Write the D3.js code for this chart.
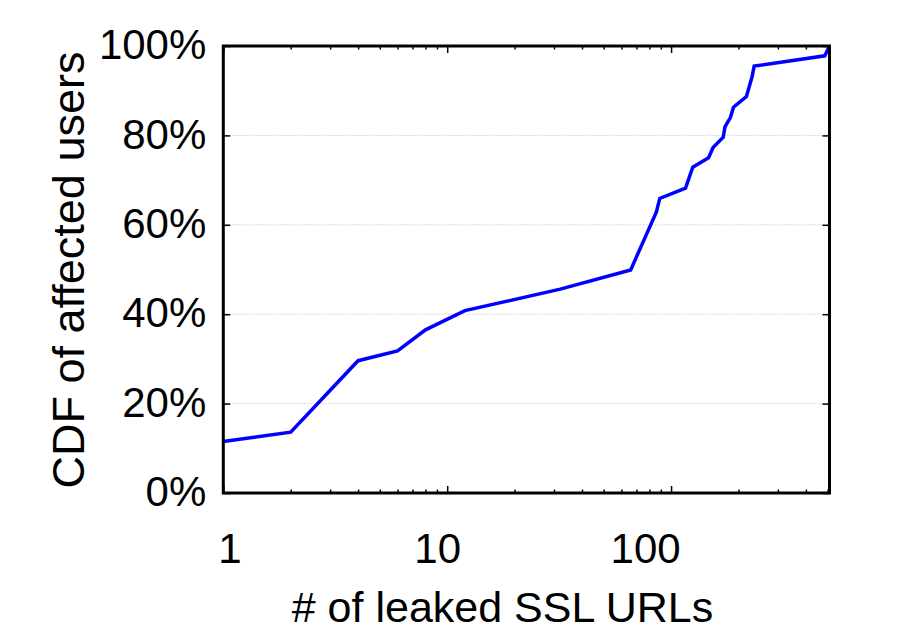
<!DOCTYPE html>
<html>
<head>
<meta charset="utf-8">
<script src="https://cdn.jsdelivr.net/npm/d3@7"></script>
<style>
  body { margin: 0; background: #fff; }
  svg { display: block; font-family: "Liberation Sans", Arial, sans-serif; }
</style>
</head>
<body>
<div id="chart"></div>
<script>
// Data: number of leaked SSL URLs vs CDF (%) of affected users
const leakedUrls = [1, 2, 4, 6, 8, 12, 32, 66, 86, 89, 116, 125, 147, 154, 171, 174, 184, 190, 217, 230, 235, 486, 510]
const cdfPercent = [11.5, 13.6, 29.6, 31.8, 36.5, 40.8, 45.6, 49.9, 62.9, 65.9, 68.2, 72.9, 75, 77.3, 79.6, 81.9, 84, 86.3, 88.7, 93.1, 95.5, 97.8, 100]

const xMajorTicks = [1, 10, 100]
const xMinorTicks = [2, 3, 4, 5, 6, 7, 8, 9, 20, 30, 40, 50, 60, 70, 80, 90, 200, 300, 400, 500]
const yTicks = [0, 20, 40, 60, 80, 100]

const xLabel = '# of leaked SSL URLs'
const yLabel = 'CDF of affected users'

// Constants
const width = 913
const height = 640
const margin = { top: 46, right: 83.5, bottom: 147, left: 223.3 }
const graphWidth = width - margin.left - margin.right
const graphHeight = height - margin.top - margin.bottom

const data = leakedUrls.map((v, i) => ({ urls: v, cdf: cdfPercent[i] }))

const svg = d3.select('#chart')
    .append('svg')
    .attr('width', width)
    .attr('height', height)

const g = svg.append('g')
    .attr('transform', `translate(${margin.left}, ${margin.top})`)

// Scales
const x = d3.scaleLog()
    .domain([1, 510])
    .range([0, graphWidth])

const y = d3.scaleLinear()
    .domain([0, 100])
    .range([graphHeight, 0])

// Grid lines (horizontal, dotted)
g.append('g')
    .selectAll('line')
    .data(yTicks.filter(d => d > 0 && d < 100))
    .enter()
    .append('line')
    .attr('x1', 0)
    .attr('x2', graphWidth)
    .attr('y1', d => y(d))
    .attr('y2', d => y(d))
    .attr('stroke', '#b8b8b8')
    .attr('stroke-width', 1)
    .attr('stroke-dasharray', '1,2')

// Axes: ticks point inward, mirrored on top and right
const styleAxis = sel => {
    sel.select('.domain').remove()
    sel.selectAll('line').attr('stroke', '#000').attr('stroke-width', 1.5)
    sel.selectAll('text')
        .attr('fill', '#000')
        .style('font-size', '42px')
        .style('font-family', '"Liberation Sans", Arial, sans-serif')
}

const xBottom = g.append('g')
    .attr('transform', `translate(0, ${graphHeight})`)
    .call(d3.axisBottom(x).tickValues(xMajorTicks).tickSize(-7).tickPadding(0).tickFormat(d3.format('d')))
styleAxis(xBottom)
// gnuplot-style label placement
const xNudge = [6, -10, -26]
xBottom.selectAll('text')
    .attr('y', 70)
    .attr('dy', 0)
    .attr('dx', (d, i) => xNudge[i])

g.append('g')
    .attr('transform', `translate(0, ${graphHeight})`)
    .call(d3.axisBottom(x).tickValues(xMinorTicks).tickSize(-3.5).tickFormat(''))
    .call(styleAxis)

g.append('g')
    .call(d3.axisTop(x).tickValues(xMajorTicks).tickSize(-7).tickFormat(''))
    .call(styleAxis)

g.append('g')
    .call(d3.axisTop(x).tickValues(xMinorTicks).tickSize(-3.5).tickFormat(''))
    .call(styleAxis)

const yLeft = g.append('g')
    .call(d3.axisLeft(y).tickValues(yTicks).tickSize(-7).tickPadding(15).tickFormat(d => d + '%'))
styleAxis(yLeft)
yLeft.selectAll('text').attr('x', -17).attr('dy', '0.3em')

g.append('g')
    .attr('transform', `translate(${graphWidth}, 0)`)
    .call(d3.axisRight(y).tickValues(yTicks).tickSize(-7).tickFormat(''))
    .call(styleAxis)

// Line
const line = d3.line()
    .x(d => x(d.urls))
    .y(d => y(d.cdf))

g.append('path')
    .datum(data)
    .attr('d', line)
    .attr('fill', 'none')
    .attr('stroke', '#0000ff')
    .attr('stroke-width', 3.5)
    .attr('stroke-linejoin', 'miter')

// Frame
g.append('rect')
    .attr('x', 0)
    .attr('y', 0)
    .attr('width', graphWidth)
    .attr('height', graphHeight)
    .attr('fill', 'none')
    .attr('stroke', '#000')
    .attr('stroke-width', 3)

// Axis titles
svg.append('text')
    .attr('x', 502.5)
    .attr('y', 622)
    .attr('text-anchor', 'middle')
    .style('font-size', '43px')
    .attr('fill', '#000')
    .text(xLabel)

svg.append('text')
    .attr('transform', `translate(84, 270) rotate(-90)`)
    .attr('text-anchor', 'middle')
    .style('font-size', '45px')
    .attr('fill', '#000')
    .text(yLabel)
</script>
</body>
</html>
